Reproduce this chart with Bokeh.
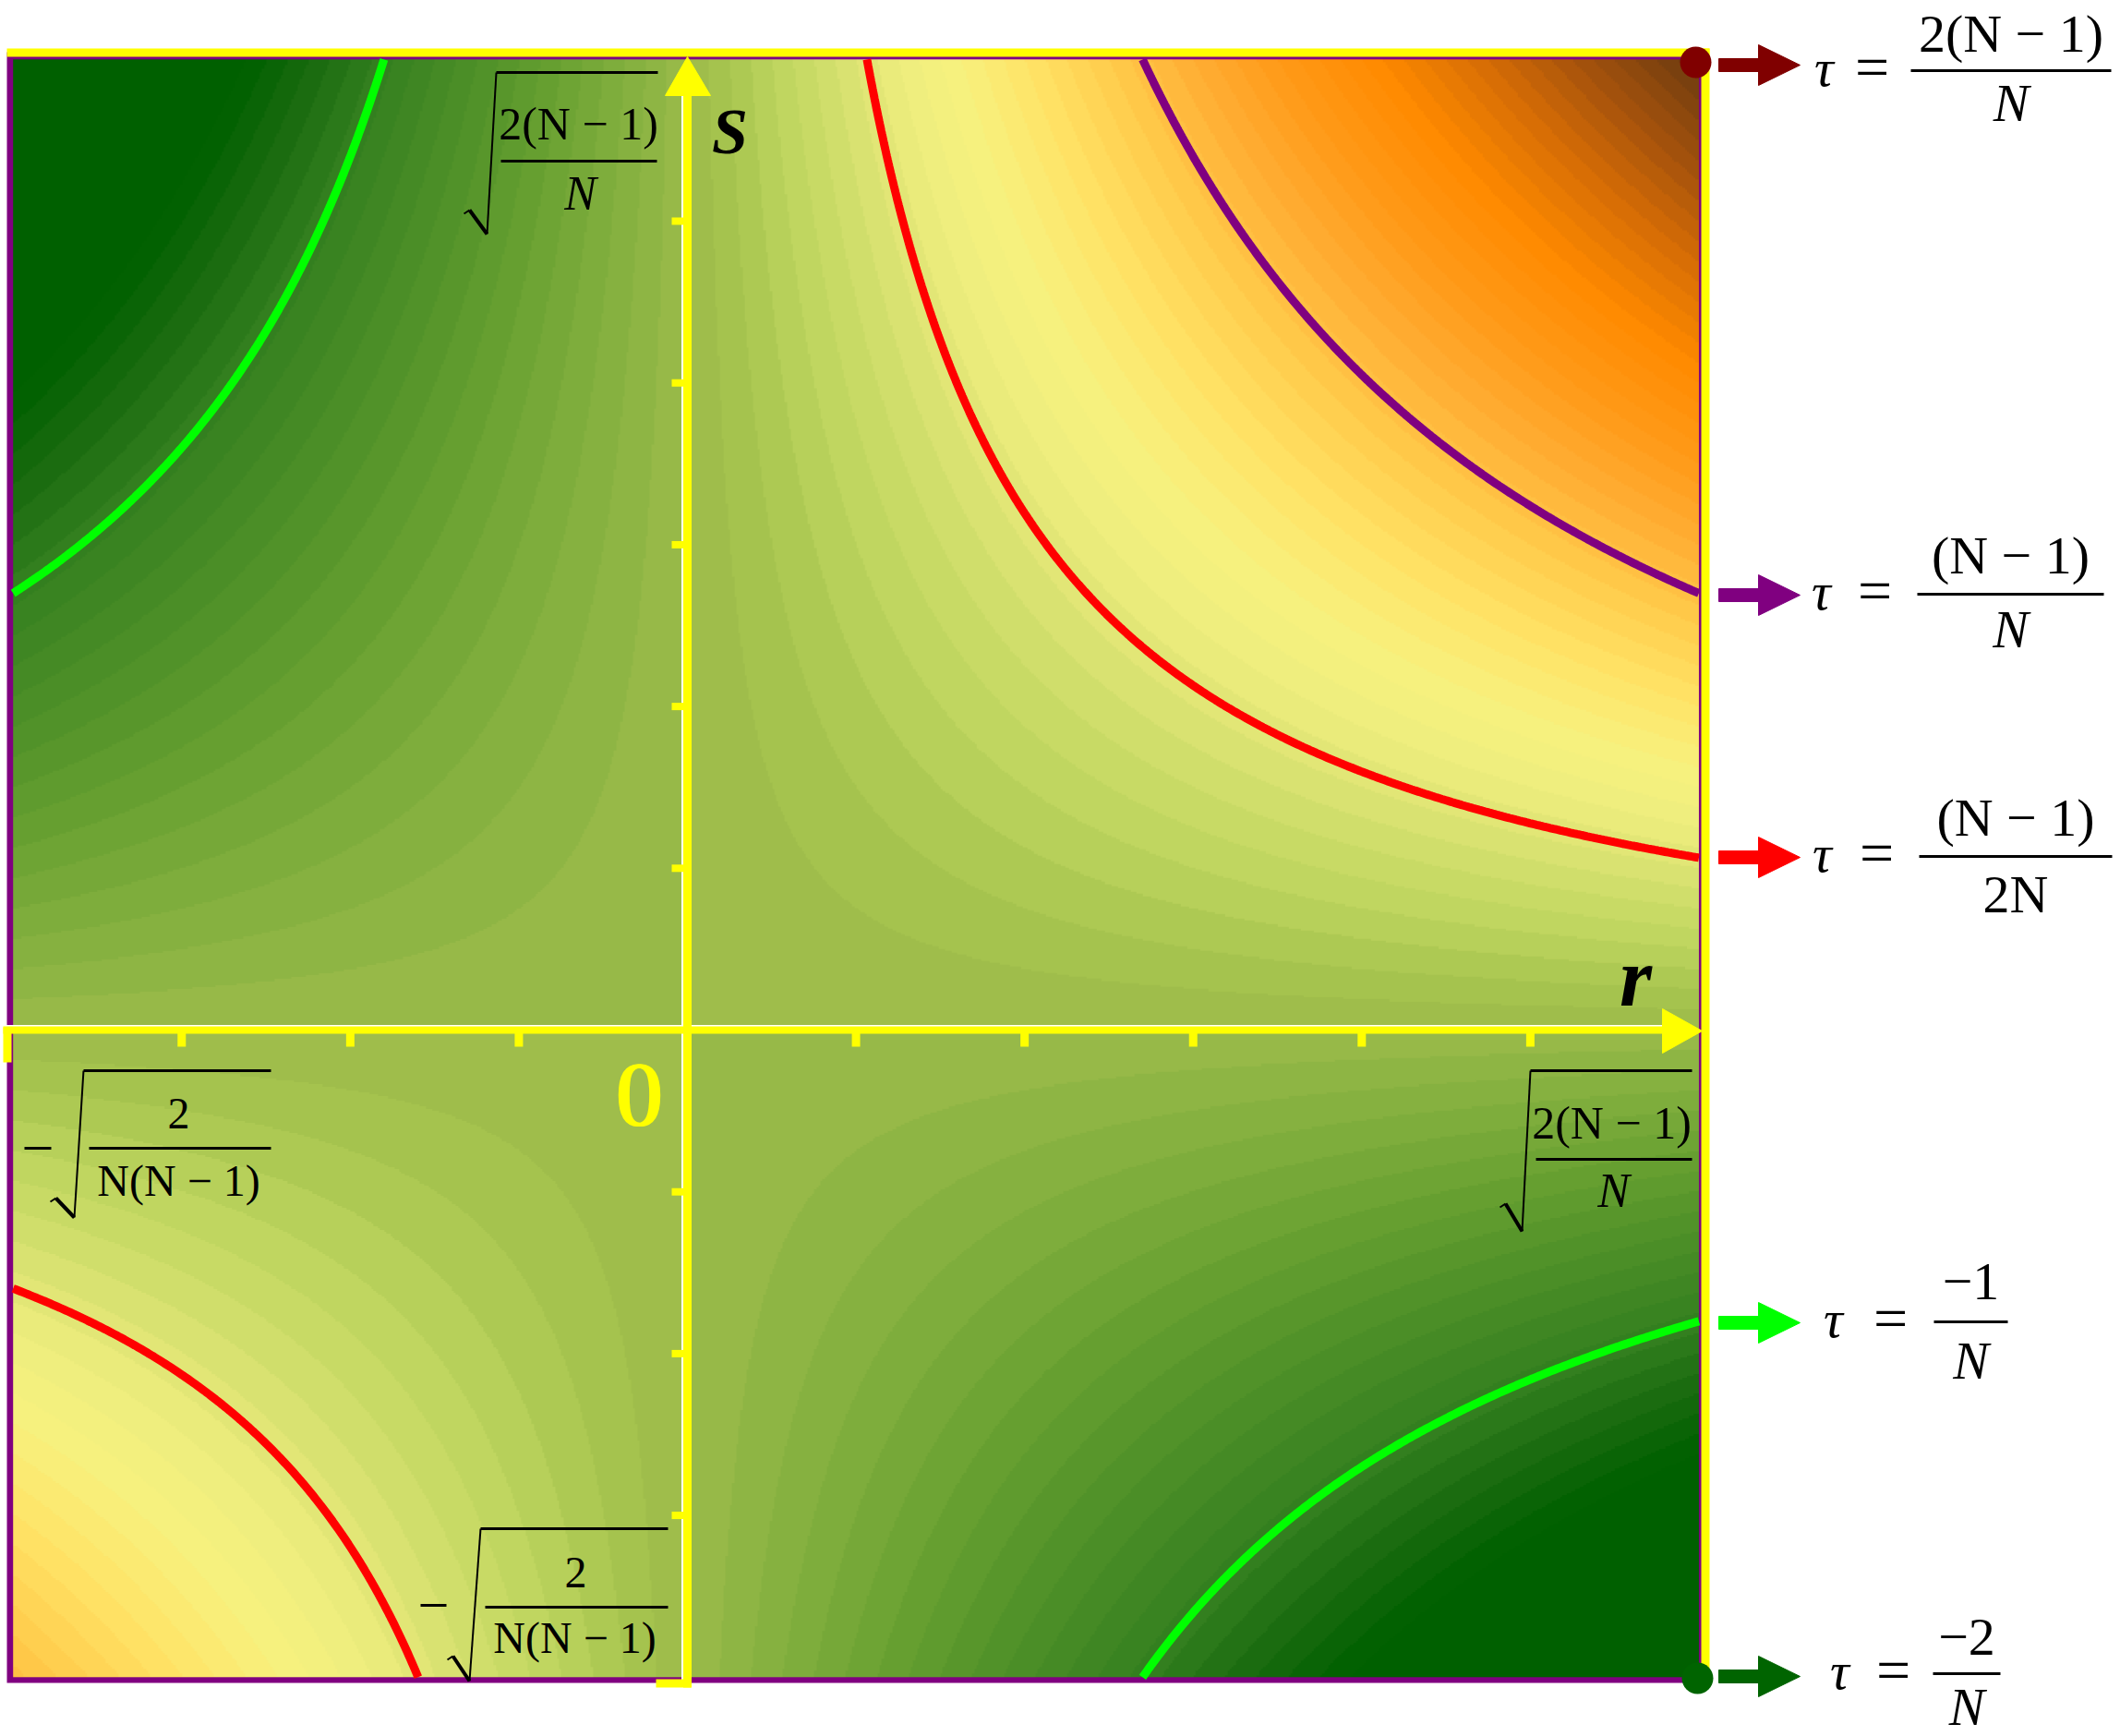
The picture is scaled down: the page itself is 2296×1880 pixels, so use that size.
import numpy as np
from bokeh.plotting import figure
from bokeh.models import Range1d
from bokeh.embed import file_html
from bokeh.resources import INLINE
from bokeh.core.properties import value

# ---------------- values ----------------
N = 2.5                                            # r and s run from -sqrt(2/(N(N-1))) to sqrt(2(N-1)/N)
r_lo = -np.sqrt(2.0 / (N * (N - 1.0)))
r_hi = np.sqrt(2.0 * (N - 1.0) / N)
s_lo, s_hi = r_lo, r_hi
tick_unit = r_hi / 6.0                             # ticks are evenly spaced
r_tick_k = [-3, -2, -1, 1, 2, 3, 4, 5]
s_tick_k = [-3, -2, -1, 1, 2, 3, 4, 5]

# highlighted contour levels of tau = r*s (green, red, purple)
line_levels = [-0.36, 0.213, 0.54]
line_colors = ["#00ff00", "#ff0000", "#800080"]

# banded colour scale
band_step = 0.025
cmap_tau = [-0.52, -0.44, -0.36, -0.25, -0.15, -0.05, 0.0, 0.05, 0.10, 0.15, 0.20,
            0.25, 0.32, 0.40, 0.50, 0.60, 0.70, 0.82, 0.95, 1.05, 1.20]
cmap_col = ["#006000", "#1b6c10", "#348020", "#4e9028", "#6aa232", "#8ab442", "#9cbb4a",
            "#a8c650", "#bcd45e", "#ccdc68", "#dee474", "#eeee7e", "#f8f27e", "#ffe468",
            "#ffcc4c", "#ffae34", "#ff9a18", "#ff8a00", "#d46c06", "#a8540c", "#6a3a10"]

# legend of levels at the right
leg_num = ["2(N − 1)", "(N − 1)", "(N − 1)", "−1", "−2"]
leg_den = ["N", "N", "2N", "N", "N"]
leg_col = ["#800000", "#800080", "#ff0000", "#00ff00", "#006400"]

# ---------------- page geometry ----------------
W, H = 2296, 1880
OX, OY = 744.0, 1115.0      # page pixel of the origin
SX, SY = 1000.0, 959.6      # pixels per unit


def R(px):
    return (px - OX) / SX


def S(py):
    return (OY - py) / SY


p = figure(width=W, height=H, x_range=Range1d(R(0), R(W)), y_range=Range1d(S(H), S(0)),
           output_backend="svg", toolbar_location=None, min_border=0,
           x_axis_location=None, y_axis_location=None)
p.title.visible = False
p.outline_line_color = None
p.background_fill_color = "white"
p.border_fill_color = "white"
p.xgrid.visible = False
p.ygrid.visible = False

YEL = "#ffff00"
PUR = "#800080"
SERIF = value("Liberation Serif")
BASE_SHIFT = 0.30           # em offset so that the text sits on the wanted baseline


def seg(x0, y0, x1, y1, color, w, cap="butt"):
    p.segment(x0=[R(x0)], y0=[S(y0)], x1=[R(x1)], y1=[S(y1)], line_color=color,
              line_width=w, line_cap=cap)


def poly(xs, ys, color):
    p.patch(x=[R(v) for v in xs], y=[S(v) for v in ys], fill_color=color, line_color=color,
            line_width=1)


def txt(x, y, t, size, color="black", style="normal", align="center"):
    p.text(x=[R(x)], y=[S(y - BASE_SHIFT * size)], text=[t], text_font=SERIF,
           text_font_size=f"{size}px", text_font_style=style, text_color=color,
           text_align=align, text_baseline="alphabetic")


# purple frame behind the field
p.quad(left=[R(7)], right=[R(1849)], top=[S(56)], bottom=[S(1822)], fill_color=PUR, line_color=None)

# ---------------- banded field tau = r*s ----------------
def hex2rgb(h):
    return [int(h[i:i + 2], 16) for i in (1, 3, 5)]


nx = ny = 800
rr = np.linspace(r_lo, r_hi, nx)
ss = np.linspace(s_lo, s_hi, ny)
tau = np.outer(ss, rr)
band = (np.floor(tau / band_step) + 0.5) * band_step
ct = np.array(cmap_tau)
cc = np.array([hex2rgb(h) for h in cmap_col], dtype=float)
img = np.zeros((ny, nx), dtype=np.uint32)
view = img.view(dtype=np.uint8).reshape((ny, nx, 4))
for k in range(3):
    view[..., k] = np.clip(np.interp(band, ct, cc[:, k]), 0, 255).astype(np.uint8)
view[..., 3] = 255
p.image_rgba(image=[img], x=r_lo, y=s_lo, dw=r_hi - r_lo, dh=s_hi - s_lo)

# highlighted contour lines
rl = np.linspace(r_lo, r_hi, 500)
sl = np.linspace(s_lo, s_hi, 500)
p.contour(x=rl, y=sl, z=np.outer(sl, rl), levels=line_levels, line_color=line_colors,
          line_width=9)

# ---------------- axes through the origin ----------------
seg(738.5, 1827, 738.5, 100, "white", 2)
seg(3, 1110.5, 1800, 1110.5, "white", 2)
p.segment(x0=[0], y0=[S(1827)], x1=[0], y1=[S(100)], line_color=YEL, line_width=9, line_cap="butt")
p.segment(x0=[R(3)], y0=[0], x1=[R(1800)], y1=[0], line_color=YEL, line_width=8, line_cap="butt")
# ticks
rt = [k * tick_unit for k in r_tick_k]
p.segment(x0=rt, y0=[0] * len(rt), x1=rt, y1=[S(1133)] * len(rt), line_color=YEL, line_width=9,
          line_cap="butt")
st = [k * tick_unit for k in s_tick_k]
p.segment(x0=[0] * len(st), y0=st, x1=[R(727)] * len(st), y1=st, line_color=YEL, line_width=8,
          line_cap="butt")
seg(7.5, 1112, 7.5, 1150, YEL, 9)           # left end tick
seg(710, 1822.5, 748, 1822.5, YEL, 9)       # bottom end tick
# arrow heads
poly([720, 744, 769], [103, 61, 103], YEL)
poly([1800, 1843, 1800], [1092, 1116, 1140], YEL)

# axis names
txt(790, 163, "S", 70, style="bold italic")
txt(1771, 1085, "r", 90, style="bold italic")

# origin label (emboldened by overprinting)
for dx in (-1.5, 0.0, 1.5):
    txt(692 + dx, 1215, "0", 100, color=YEL)

# ---------------- radical labels inside the plot ----------------
def radical(pts, bar_end):
    (x0, y0), (x1, y1), (x2, y2) = pts
    seg(x0 - 6, y0 + 4, x0, y0, "black", 2)
    seg(x0, y0, x1, y1, "black", 4)
    seg(x1, y1, x2, y2, "black", 2)
    seg(x2, y2, bar_end, y2, "black", 3)


# sqrt(2(N-1)/N) upper
radical([(508, 227), (527, 253), (537, 78)], 712)
seg(542, 174, 711, 174, "black", 3)
txt(626, 148, "2(N − 1)", 50)
txt(628, 225, "N", 52, style="italic")

# -sqrt(2/(N(N-1))) left
seg(26, 1243, 55, 1243, "black", 3)
radical([(60, 1297), (80, 1318), (90, 1159)], 293)
seg(96, 1243, 293, 1243, "black", 3)
txt(193, 1220, "2", 48)
txt(193, 1292, "N(N − 1)", 48)

# sqrt(2(N-1)/N) right
radical([(1630, 1303), (1648, 1333), (1657, 1159)], 1832)
seg(1663, 1255, 1832, 1255, "black", 3)
txt(1745, 1230, "2(N − 1)", 50)
txt(1747, 1305, "N", 52, style="italic")

# -sqrt(2/(N(N-1))) bottom
seg(455, 1738, 483, 1738, "black", 3)
radical([(490, 1793), (508, 1820), (520, 1655)], 723)
seg(525, 1740, 723, 1740, "black", 3)
txt(623, 1717, "2", 48)
txt(622, 1787, "N(N − 1)", 48)

# ---------------- frame lines top / right ----------------
seg(7, 56.5, 1851, 56.5, YEL, 9)
seg(1846.5, 52, 1846.5, 1815, YEL, 9)
p.scatter(x=[R(1836)], y=[S(67)], size=34, marker="circle", fill_color="#800000", line_color=None)
p.scatter(x=[R(1838)], y=[S(1817)], size=34, marker="circle", fill_color="#006400", line_color=None)

# ---------------- level legend at the right ----------------
bar_y = [76, 643, 927, 1431, 1812]
bar_x = [(2069, 2286), (2076, 2278), (2078, 2287), (2094, 2174), (2093, 2166)]
tau_x = [1975, 1972, 1973, 1985, 1992]
eq_x = [2027, 2030, 2032, 2047, 2050]
num_base = [53, 618, 902, 1405, 1790]
den_base = [128, 698, 985, 1490, 1865]
arrow_y = [70, 644, 928, 1432, 1815]
for i in range(5):
    ay = arrow_y[i]
    col = leg_col[i]
    poly([1861, 1906, 1906, 1861], [ay - 7, ay - 7, ay + 7, ay + 7], col)
    poly([1904, 1949, 1904], [ay - 22, ay, ay + 22], col)
    by = bar_y[i]
    txt(tau_x[i], by + 14, "τ", 58, style="italic")
    txt(eq_x[i], by + 16, "=", 66)
    x0, x1 = bar_x[i]
    seg(x0, by, x1, by, "black", 3)
    cx = 0.5 * (x0 + x1)
    txt(cx, num_base[i], leg_num[i], 58)
    txt(cx, den_base[i], leg_den[i], 58, style="italic" if leg_den[i] == "N" else "normal")

open("out.html", "w").write(file_html(p, INLINE))
